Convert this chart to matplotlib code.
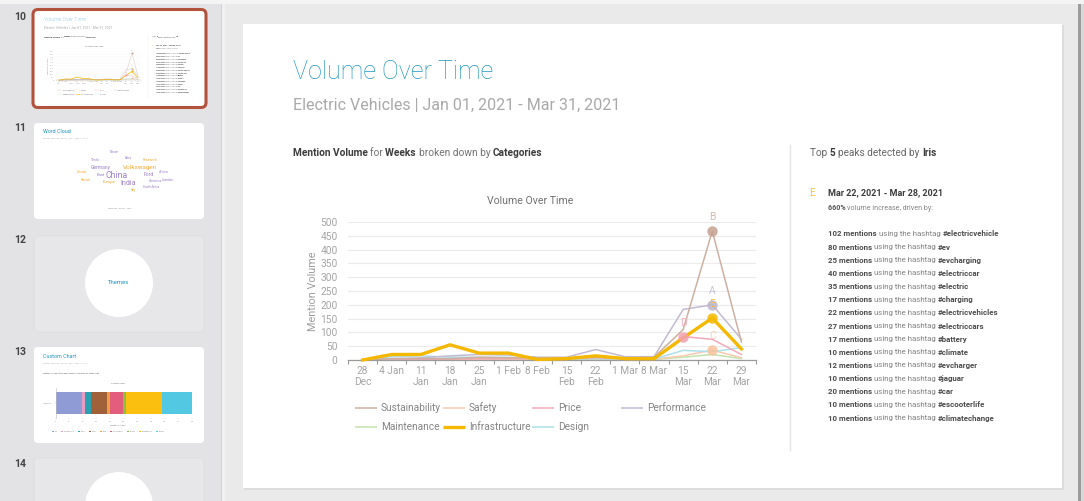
import numpy as np
import matplotlib
matplotlib.use("Agg")
import matplotlib.pyplot as plt
from matplotlib.patches import FancyBboxPatch, Rectangle, Circle

W, H = 1084, 501
plt.rcParams['font.family'] = ['Roboto', 'DejaVu Sans']

# ---------------- data ----------------
weeks = ["28\nDec", "4 Jan", "11\nJan", "18\nJan", "25\nJan", "1 Feb", "8 Feb",
         "15\nFeb", "22\nFeb", "1 Mar", "8 Mar", "15\nMar", "22\nMar", "29\nMar"]
categories = ["Sustainability", "Safety", "Price", "Performance",
              "Maintenance", "Infrastructure", "Design"]
sustainability = [0, 5, 5, 5, 10, 8, 8, 8, 10, 8, 10, 110, 467, 65]
safety         = [0, 2, 2, 3, 3, 3, 3, 3, 5, 3, 3, 15, 36, 8]
price          = [0, 3, 3, 3, 5, 5, 5, 5, 8, 5, 5, 85, 75, 20]
performance    = [0, 5, 8, 15, 20, 18, 10, 10, 38, 12, 12, 183, 200, 75]
maintenance    = [0, 1, 1, 1, 2, 2, 2, 2, 3, 2, 2, 10, 20, 5]
infrastructure = [0, 20, 20, 55, 25, 25, 2, 5, 15, 5, 5, 80, 152, 40]
design         = [0, 12, 15, 10, 10, 10, 5, 3, 5, 3, 3, 35, 30, 45]

peak_letters = ["A", "B", "C", "D", "E"]
peak_categories = ["Performance", "Sustainability", "Safety", "Price", "Infrastructure"]
peak_week_index = [12, 12, 12, 11, 12]

slide_title = "Volume Over Time"
slide_subtitle = "Electric Vehicles | Jan 01, 2021 - Mar 31, 2021"
chart_title = "Volume Over Time"
y_label = "Mention Volume"
top_n = 5
peak_range = "Mar 22, 2021 - Mar 28, 2021"
peak_increase = "660%"
hashtag_counts = [102, 80, 25, 40, 35, 17, 22, 27, 17, 10, 12, 10, 20, 10, 10]
hashtags = ["#electricvehicle", "#ev", "#evcharging", "#electriccar", "#electric",
            "#charging", "#electricvehicles", "#electriccars", "#battery", "#climate",
            "#evcharger", "#jaguar", "#car", "#escooterlife", "#climatechange"]

slide_numbers = ["10", "11", "12", "13", "14"]
cloud_words = ["China", "India", "Volkswagen", "Germany", "Ford", "Europe", "East",
               "America", "Research", "Tesla", "Africa", "Canada", "Australia",
               "South Africa", "Renault", "Sales", "Nissan", "Italy"]
cloud_weights = [10, 8, 7, 5, 5, 4, 4, 3, 3, 3, 3, 2, 2, 2, 2, 2, 2, 2]
thumb_bar_labels = ["Tax", "Photography", "Travel", "Safety", "Price", "Performance",
                    "Politics", "Sustainability", "Design"]
thumb_bar_values = [78, 11, 16, 50, 8, 38, 9, 109, 89]

series = dict(zip(categories, [sustainability, safety, price, performance,
                               maintenance, infrastructure, design]))

# ---------------- styles ----------------
colors = {"Sustainability": "#cdb0a2", "Safety": "#f8cbb0", "Price": "#f3a9b8",
          "Performance": "#c2bad0", "Maintenance": "#c3e2ad",
          "Infrastructure": "#f5b800", "Design": "#ace0ea"}
marker_colors = {"Sustainability": "#c4a191", "Safety": "#f7c39c", "Price": "#f2a0b2",
                 "Performance": "#bdb5cc", "Infrastructure": "#f5b800"}
letter_colors = {"Sustainability": "#d8bcae", "Safety": "#f8d0b8", "Price": "#f3b0be",
                 "Performance": "#c8c0dc", "Infrastructure": "#f5c230"}
thumb_bar_colors = ["#8f9bd5", "#e79cc4", "#2a9fb0", "#a0603a", "#f0a040",
                    "#e35d7c", "#8cc040", "#fbbf10", "#52c8e2"]
BLUE = "#2196c0"

fig = plt.figure(figsize=(W / 100, H / 100), dpi=100)
fig.patch.set_facecolor('#e9e9e9')
bg = fig.add_axes([0, 0, 1, 1])
bg.set_xlim(0, W)
bg.set_ylim(H, 0)
bg.axis('off')
R = fig.canvas.get_renderer()


def rect(x0, y0, x1, y1, color, z=0):
    bg.add_patch(Rectangle((x0, y0), x1 - x0, y1 - y0, facecolor=color,
                           edgecolor='none', zorder=z))


def card(x0, y0, x1, y1, fc, ec='none', lw=0, r=4, z=1):
    bg.add_patch(FancyBboxPatch((x0, y0), x1 - x0, y1 - y0,
                                boxstyle=f"round,pad=0,rounding_size={r}",
                                facecolor=fc, edgecolor=ec, lw=lw, zorder=z))


def adv(txt, size, weight):
    t1 = bg.text(0, 0, "x" + txt + "x", fontsize=size, fontweight=weight)
    t2 = bg.text(0, 0, "xx", fontsize=size, fontweight=weight)
    w = t1.get_window_extent(R).width - t2.get_window_extent(R).width
    t1.remove()
    t2.remove()
    return w


def rich_width(parts, size):
    return sum(adv(t, size, w) for t, w, c in parts)


def fit(parts, target):
    return 10.0 * target / rich_width(parts, 10.0)


def rich(x, y, parts, size, z=5):
    for t, w, c in parts:
        bg.text(x, y, t, fontsize=size, fontweight=w, color=c, va='center',
                ha='left', zorder=z)
        x += adv(t, size, w)


B_DARK, N_GREY = "#3c3c3c", "#727272"
header_parts = [("Mention Volume ", 'bold', B_DARK), ("for ", 'normal', N_GREY),
                ("Weeks ", 'bold', B_DARK), ("broken down by ", 'normal', N_GREY),
                ("Categories", 'bold', B_DARK)]
top_parts = [("Top ", 'normal', "#666666"), (f"{top_n} ", 'bold', B_DARK),
             ("peaks detected by ", 'normal', "#666666"), ("Iris", 'bold', B_DARK)]
incr_parts = [(f"{peak_increase} ", 'bold', "#555555"),
              ("volume increase, driven by:", 'normal', "#858585")]


def line_parts(n, tag):
    return [(f"{n} mentions ", 'bold', "#4c4c4c"), ("using the hashtag ", 'normal', "#838383"),
            (tag, 'bold', "#4c4c4c")]


TITLE_FS = fit([(slide_title, 'light', BLUE)], 200)
SUB_FS = fit([(slide_subtitle, 'normal', '#aaa')], 325)
HDR_FS = fit(header_parts, 249)
TOP_FS = fit(top_parts, 126)
DATE_FS = fit([(peak_range, 'bold', B_DARK)], 115)
INCR_FS = fit(incr_parts, 104)
LINE_FS = fit(line_parts(hashtag_counts[0], hashtags[0]), 172)
CH_FS = 7.3


def draw_slide(s, ox, oy):
    def P(x, y):
        return ox + s * x, oy + s * y

    x, y = P(49.7, 47.5)
    bg.text(x, y, slide_title, fontsize=TITLE_FS * s, fontweight='light', color=BLUE,
            va='center', ha='left', zorder=5)
    x, y = P(49.7, 81.5)
    bg.text(x, y, slide_subtitle, fontsize=SUB_FS * s, fontweight='normal', color='#a9a9a9',
            va='center', ha='left', zorder=5)
    x, y = P(49.7, 129.3)
    rich(x, y, header_parts, HDR_FS * s)

    # chart title
    x, y = P(287, 177)
    bg.text(x, y, chart_title, fontsize=7.6 * s, color='#707070', va='center',
            ha='center', zorder=5)

    # chart axes
    X0, Y0 = P(105, 198)
    ww, hh = 408 * s, 138 * s
    ax = fig.add_axes([X0 / W, 1 - (Y0 + hh) / H, ww / W, hh / H])
    ax.set_facecolor('none')
    xs = np.arange(len(weeks))
    order = ["Maintenance", "Safety", "Design", "Price", "Performance",
             "Sustainability", "Infrastructure"]
    for k, name in enumerate(order):
        lw = 2.4 if name == "Infrastructure" else 1.1
        ax.plot(xs, series[name], color=colors[name], lw=lw * s, zorder=2 + k * 0.1,
                solid_joinstyle='miter', clip_on=False)
    for letter, cat, idx in zip(peak_letters, peak_categories, peak_week_index):
        v = series[cat][idx]
        ax.plot(idx, v, 'o', ms=7.5 * s, color=marker_colors[cat], mec='none',
                alpha=0.85, zorder=4, clip_on=False)
        ax.annotate(letter, (idx, v), xytext=(0, 10 * s), textcoords='offset points',
                    ha='center', va='center', fontsize=7.5 * s,
                    color=letter_colors[cat], annotation_clip=False, zorder=5)
    ax.set_xlim(-0.5, len(weeks) - 0.5)
    ax.set_ylim(0, 500)
    ax.set_yticks(np.arange(0, 501, 50))
    ax.yaxis.grid(True, color='#ebebeb', lw=0.8 * s)
    ax.set_axisbelow(True)
    ax.set_xticks(xs)
    ax.set_xticklabels(weeks, linespacing=1.05)
    ax.set_xticks(np.arange(-0.5, len(weeks), 1), minor=True)
    ax.tick_params(axis='x', which='major', length=0, pad=4.5 * s,
                   labelsize=CH_FS * s, labelcolor='#a5a5a5')
    ax.tick_params(axis='x', which='minor', length=3 * s, width=0.8 * s, color='#999999')
    ax.tick_params(axis='y', length=0, pad=7.5 * s, labelsize=CH_FS * s,
                   labelcolor='#a5a5a5')
    for sp in ['top', 'right', 'left']:
        ax.spines[sp].set_visible(False)
    ax.spines['bottom'].set_color('#9a9a9a')
    ax.spines['bottom'].set_linewidth(0.9 * s)
    ax.text(-0.087, 0.5, y_label, transform=ax.transAxes, rotation=90, ha='center',
            va='center', fontsize=7.8 * s, color='#9e9e9e')

    # legend
    cols = [138, 226, 315, 404]
    rows = [384, 403]
    for i, name in enumerate(categories):
        r, c = divmod(i, 4)
        tx = cols[c]
        lw = 2.4 if name == "Infrastructure" else 1.1
        hx0, hy = P(tx - 26, rows[r])
        hx1, _ = P(tx - 4, rows[r])
        bg.plot([hx0, hx1], [hy, hy], color=colors[name], lw=lw * s, zorder=5,
                solid_capstyle='butt')
        x, y = P(tx, rows[r])
        bg.text(x, y, name, fontsize=CH_FS * s, color='#858585', va='center',
                ha='left', zorder=5)

    # separator
    x0, y0 = P(547, 121)
    x1, y1 = P(547, 426)
    bg.plot([x0, x1], [y0, y1], color='#e4e4e4', lw=1 * s, zorder=5)

    # right panel
    x, y = P(567, 129.3)
    rich(x, y, top_parts, TOP_FS * s)
    x, y = P(566, 169)
    bg.text(x, y, peak_letters[peak_categories.index("Infrastructure")],
            fontsize=DATE_FS * s * 1.1, color='#f5c540', va='center', ha='left', zorder=5)
    x, y = P(585, 169)
    rich(x, y, [(peak_range, 'bold', B_DARK)], DATE_FS * s)
    x, y = P(585, 184)
    rich(x, y, incr_parts, INCR_FS * s)
    for i, (n, tag) in enumerate(zip(hashtag_counts, hashtags)):
        x, y = P(585, 210 + i * 13.15)
        rich(x, y, line_parts(n, tag), LINE_FS * s)


# ---------------- background / app chrome ----------------
rect(0, 0, 221, H, '#e3e3e5')
rect(221, 0, 225, H, '#f1f1f1')
bg.plot([221, 221], [0, H], color='#d4d4d4', lw=0.8, zorder=1)
rect(225, 0, W, H, '#eaeaea')
rect(0, 0, W, 4, '#f4f4f4', z=1)
rect(1078, 0, 1081, H, '#9c9c9c')
rect(1081, 0, W, H, '#d8d8d8')

# slide
rect(244, 25, 1064, 490, '#dcdcdc', z=1)
rect(243, 24, 1062, 488, 'white', z=1)

# thumbnails
num_y = [17, 128, 240, 352, 464]
for lab, yy in zip(slide_numbers, num_y):
    bg.text(20.5, yy, lab, fontsize=7.5, fontweight='bold', color='#444444',
            ha='center', va='center', zorder=5)

card(33, 9.5, 206, 107.5, 'white', ec='#b3523c', lw=2.2, r=5, z=2)
card(34, 123, 204, 219, 'white', z=2)
card(34, 236, 204, 332, '#e7e7e9', ec='#dddddd', lw=0.5, z=2)
card(34, 347, 204, 443, 'white', z=2)
card(34, 458, 204, 520, '#e7e7e9', ec='#dddddd', lw=0.5, z=2)
bg.add_patch(Circle((119, 283), 34, facecolor='white', edgecolor='none', zorder=3))
bg.text(119, 283, "Themes", fontsize=4.3, color=BLUE, ha='center', va='center', zorder=5)
bg.add_patch(Circle((119, 506), 34, facecolor='white', edgecolor='none', zorder=3))

# thumbnail 11: word cloud
bg.text(43, 131.5, "Word Cloud", fontsize=3.9, color=BLUE, ha='left', va='center', zorder=5)
bg.text(43, 138, slide_subtitle, fontsize=1.6, color='#b0b0b0', ha='left', va='center', zorder=5)
cloud_pos = [(117, 175), (128, 183.5), (140, 167.5), (101, 167.5), (149, 175), (109, 182.5),
             (101, 175), (156, 180.5), (150, 160), (95, 160), (164, 172), (82, 172),
             (168, 180), (151, 187), (86, 180), (128, 158), (114, 152), (133, 190)]
purple, orange = '#9b7fc8', '#f2ab3a'
for k, (wd, wt) in enumerate(zip(cloud_words, cloud_weights)):
    px, py = cloud_pos[k]
    bg.text(px, py, wd, fontsize=1.0 + wt * 0.52, color=purple if k % 3 != 2 else orange,
            ha='center', va='center', zorder=5)
bg.text(120, 208, "Mentions   Reach   Tags", fontsize=1.6, color='#999999',
        ha='center', va='center', zorder=5)

# thumbnail 13: custom chart
bg.text(43, 356, "Custom Chart", fontsize=3.9, color=BLUE, ha='left', va='center', zorder=5)
bg.text(43, 363, slide_subtitle, fontsize=1.6, color='#b0b0b0', ha='left', va='center', zorder=5)
bg.text(43, 373, "Mention Volume for Page Types broken down by Categories", fontsize=1.5,
        color='#555555', ha='left', va='center', zorder=5)
bg.text(118, 383, "Custom Chart", fontsize=1.6, color='#777777', ha='center', va='center', zorder=5)
ax13 = fig.add_axes([55.5 / W, 1 - 418 / H, 136.5 / W, 30 / H])
ax13.set_facecolor('none')
left = 0
for v, c in zip(thumb_bar_values, thumb_bar_colors):
    ax13.barh(0, v, left=left, height=0.9, color=c, edgecolor='none')
    left += v
total = sum(thumb_bar_values)
ax13.set_xlim(0, total)
ax13.set_ylim(-0.6, 0.6)
ax13.set_xticks(np.linspace(0, total, 11))
ax13.set_xticklabels([f"{int(round(t))}" for t in np.linspace(0, total, 11)])
ax13.set_yticks([0])
ax13.set_yticklabels(["Categories"])
ax13.tick_params(labelsize=1.4, labelcolor='#999999', length=1, width=0.3, pad=1.5,
                 color='#bbbbbb')
for sp in ['top', 'right']:
    ax13.spines[sp].set_visible(False)
ax13.spines['left'].set_color('#bbbbbb')
ax13.spines['left'].set_linewidth(0.4)
ax13.spines['bottom'].set_visible(False)
bg.text(118, 425.5, "Mention Volume", fontsize=1.5, color='#777777', ha='center', va='center', zorder=5)
lx = 52
for lab, c in zip(thumb_bar_labels, thumb_bar_colors):
    bg.add_patch(Rectangle((lx, 430.8), 2.2, 1.6, facecolor=c, edgecolor='none', zorder=5))
    bg.text(lx + 3, 431.6, lab, fontsize=1.4, color='#888888', ha='left', va='center', zorder=5)
    lx += 3 + adv(lab, 1.4, 'normal') + 3

# thumbnail 10 (mini slide) and main slide
draw_slide(0.2088, 34, 10)
draw_slide(1.0, 243, 24)

fig.savefig("out.png", dpi=100, facecolor=fig.get_facecolor())
